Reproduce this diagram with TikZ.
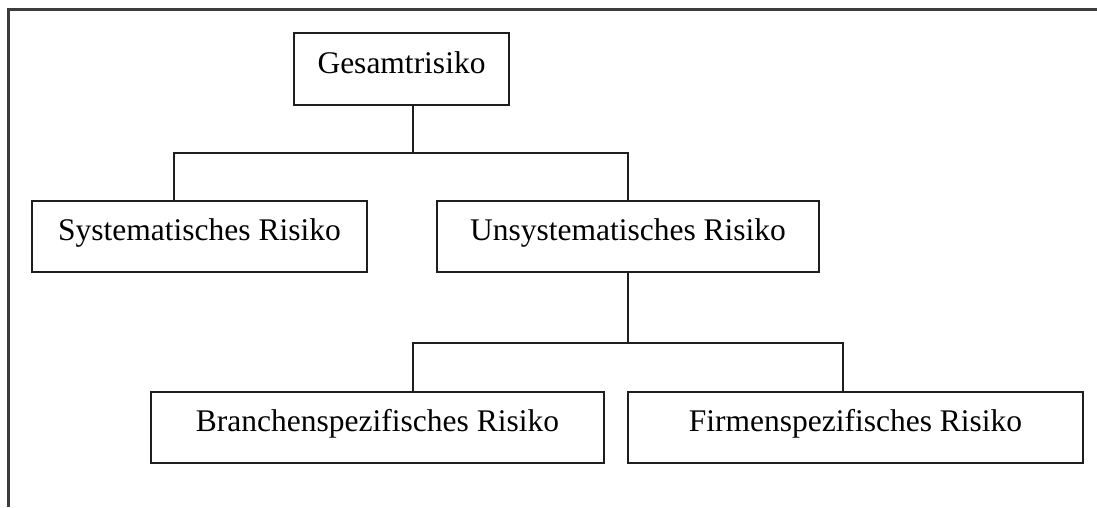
\documentclass[tikz,border=0pt]{standalone}
\usepackage{fontspec}
\setmainfont{Liberation Serif}
\usepackage{tikz}
\usetikzlibrary{positioning, calc}
\definecolor{colorLine}{RGB}{30, 30, 30}
\definecolor{colorFrame}{RGB}{60, 60, 60}
\tikzstyle{riskbox} = [rectangle, draw=colorLine, line width=1.5pt, inner sep=0pt, minimum height=71pt, text height=20pt, text depth=12pt, text centered, font=\fontsize{31.5}{36}\selectfont]
\tikzstyle{link} = [draw=colorLine, line width=1.5pt]

\begin{document}
\begin{tikzpicture}[x=1pt, y=-1pt]

		\useasboundingbox (0,0) rectangle (1097,507);

		% frame
		\draw[colorFrame, line width=3pt] (8,507) -- (8,9.5) -- (1097,9.5);

		% boxes
		\node (gesamt)[riskbox, minimum width=215pt, minimum height=72pt] at (401.5,69) {Gesamtrisiko};
		\node (syst)[riskbox, minimum width=335pt] at (199.5,236.5) {Systematisches Risiko};
		\node (unsys)[riskbox, minimum width=382pt] at (628,236.5) {Unsystematisches Risiko};
		\node (branchen)[riskbox, minimum width=453pt] at (377.5,427.5) {Branchenspezifisches Risiko};
		\node (firmen)[riskbox, minimum width=455pt] at (855.5,427.5) {Firmenspezifisches Risiko};

		% Abzweigungen
		\coordinate (gFork) at (413,153);
		\coordinate (sFork) at (174,153);
		\coordinate (uFork) at (628,153);
		\coordinate (uDown) at (628,343);
		\coordinate (bFork) at (413,343);
		\coordinate (fFork) at (843,343);

		% lines
		\draw[link] (gesamt.south -| gFork) -- (gFork);
		\draw[link] (syst.north -| sFork) -- (sFork) -- (uFork) -- (unsys.north);
		\draw[link] (unsys.south) -- (uDown);
		\draw[link] (branchen.north -| bFork) -- (bFork) -- (fFork) -- (firmen.north -| fFork);

	\end{tikzpicture}
\end{document}
